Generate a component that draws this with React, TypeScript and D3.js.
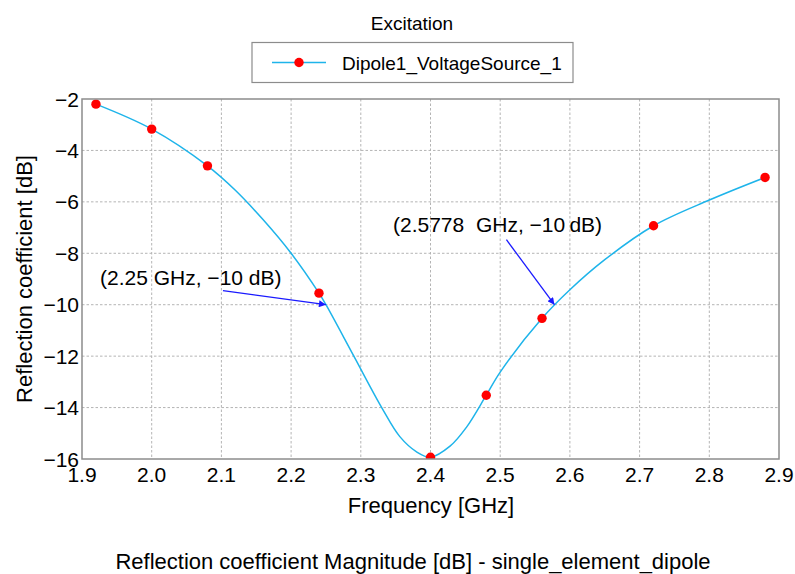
import React from "react";
import * as d3 from "d3";

// Simulated S11 sweep of the dipole (dB), sampled markers
const markerFreq = [1.92, 2.0, 2.08, 2.24, 2.4, 2.48, 2.56, 2.72, 2.88];
const markerDb = [-2.2, -3.17, -4.6, -9.55, -15.93, -13.52, -10.53, -6.93, -5.05];

// Dense trace of the same sweep
const traceFreq = [
  1.92, 2.0, 2.08, 2.12, 2.16, 2.2, 2.24, 2.25, 2.29, 2.33, 2.356, 2.38, 2.4,
  2.428, 2.452, 2.48, 2.5, 2.56, 2.6, 2.65, 2.72, 2.8, 2.88,
];
const traceDb = [
  -2.2, -3.17, -4.6, -5.55, -6.7, -8.0, -9.55, -10.0, -12.0, -14.0, -15.13, -15.72, -15.93,
  -15.5, -14.75, -13.52, -12.62, -10.53, -9.42, -8.25, -6.93, -5.93, -5.05,
];

// -10 dB crossing annotations
const annotFreq = [2.25, 2.5778];
const annotDb = [-10, -10];
const annotText = ["(2.25 GHz, \u221210 dB)", "(2.5778  GHz, \u221210\u2009dB)"];

const xTicks = [1.9, 2.0, 2.1, 2.2, 2.3, 2.4, 2.5, 2.6, 2.7, 2.8, 2.9];
const yTicks = [-2, -4, -6, -8, -10, -12, -14, -16];

const seriesName = "Dipole1_VoltageSource_1";
const legendTitle = "Excitation";
const xLabel = "Frequency [GHz]";
const yLabel = "Reflection coefficient [dB]";
const plotTitle = "Reflection coefficient Magnitude [dB] - single_element_dipole";

const W = 795;
const H = 574;
const M = { left: 82, right: 779, top: 99, bottom: 459 };
const FONT = "'Liberation Sans', Arial, sans-serif";
const LINE = "#1eb4ea";
const DOT = "#ff0000";
const ARROW = "#1a1aff";
const FRAME = "#8c8c8c";
const GRID = "#b4b4b4";

// Arrow tails relative to the annotated point
const annotTail = [
  { dx: -103, dy: -14, tx: 100, ty: 285 },
  { dx: -48, dy: -65, tx: 393, ty: 232 },
];

export default function App() {
  const x = d3.scaleLinear().domain([1.9, 2.9]).range([M.left, M.right]);
  const y = d3.scaleLinear().domain([-16, -2]).range([M.bottom, M.top]);

  const trace = traceFreq.map((f, i) => [f, traceDb[i]] as [number, number]);
  const linePath = d3
    .line<[number, number]>()
    .x((d) => x(d[0]))
    .y((d) => y(d[1]))
    .curve(d3.curveCatmullRom.alpha(0.5))(trace) as string;

  return (
    <svg
      width={W}
      height={H}
      style={{ position: "absolute", left: 0, top: 0, background: "#fff" }}
      fontFamily={FONT}
    >
      <defs>
        <marker
          id="ah"
          viewBox="0 0 10 10"
          refX="10"
          refY="5"
          markerWidth="8"
          markerHeight="7"
          markerUnits="userSpaceOnUse"
          orient="auto"
        >
          <path d="M0,0 L10,5 L0,10 z" fill={ARROW} />
        </marker>
        <clipPath id="plotClip">
          <rect x={M.left} y={M.top - 6} width={M.right - M.left} height={M.bottom - M.top + 6} />
        </clipPath>
      </defs>
      <rect x={0} y={0} width={W} height={H} fill="#fff" />

      {/* Legend */}
      <text x={412} y={30} fontSize={19} textAnchor="middle" fill="#000">
        {legendTitle}
      </text>
      <rect x={252} y={42.5} width={321} height={40} fill="#fff" stroke={FRAME} strokeWidth={1.2} />
      <line x1={272} x2={326} y1={62.5} y2={62.5} stroke={LINE} strokeWidth={1.5} />
      <circle cx={299} cy={62.5} r={4.7} fill={DOT} />
      <text x={342} y={70} fontSize={19} fill="#000">
        {seriesName}
      </text>

      {/* Grid */}
      {xTicks.slice(1, -1).map((t) => (
        <line
          key={"gx" + t}
          x1={x(t)}
          x2={x(t)}
          y1={M.top}
          y2={M.bottom}
          stroke={GRID}
          strokeWidth={1}
          strokeDasharray="2.5,2"
        />
      ))}
      {yTicks.slice(1, -1).map((t) => (
        <line
          key={"gy" + t}
          x1={M.left}
          x2={M.right}
          y1={y(t)}
          y2={y(t)}
          stroke={GRID}
          strokeWidth={1}
          strokeDasharray="2.5,2"
        />
      ))}

      {/* Trace and markers */}
      <g clipPath="url(#plotClip)">
        <path d={linePath} fill="none" stroke={LINE} strokeWidth={1.5} />
        {markerFreq.map((f, i) => (
          <circle key={"m" + i} cx={x(f)} cy={y(markerDb[i])} r={4.7} fill={DOT} />
        ))}
      </g>

      {/* Frame */}
      <rect
        x={M.left}
        y={M.top}
        width={M.right - M.left}
        height={M.bottom - M.top}
        fill="none"
        stroke={FRAME}
        strokeWidth={1.5}
      />

      {/* Tick labels */}
      {yTicks.map((t) => (
        <text
          key={"ty" + t}
          x={M.left - 3}
          y={y(t) + 7.5}
          fontSize={21}
          textAnchor="end"
          fill="#000"
        >
          {"\u2212" + Math.abs(t)}
        </text>
      ))}
      {xTicks.map((t) => (
        <text key={"tx" + t} x={x(t)} y={482} fontSize={21} textAnchor="middle" fill="#000">
          {t.toFixed(1)}
        </text>
      ))}

      {/* Annotations */}
      {annotFreq.map((f, i) => {
        const px = x(f);
        const py = y(annotDb[i]);
        const a = annotTail[i];
        return (
          <g key={"a" + i}>
            <line
              x1={px + a.dx}
              y1={py + a.dy}
              x2={px}
              y2={py}
              stroke={ARROW}
              strokeWidth={1.3}
              markerEnd="url(#ah)"
            />
            <text x={a.tx} y={a.ty} fontSize={21} fill="#000" style={{ whiteSpace: "pre" }}>
              {annotText[i]}
            </text>
          </g>
        );
      })}

      {/* Axis labels */}
      <text x={431} y={513} fontSize={22} textAnchor="middle" fill="#000">
        {xLabel}
      </text>
      <text
        transform={`translate(32,${(M.top + M.bottom) / 2}) rotate(-90)`}
        fontSize={22}
        textAnchor="middle"
        fill="#000"
      >
        {yLabel}
      </text>
      <text x={413} y={569} fontSize={22} textAnchor="middle" fill="#000">
        {plotTitle}
      </text>
    </svg>
  );
}
